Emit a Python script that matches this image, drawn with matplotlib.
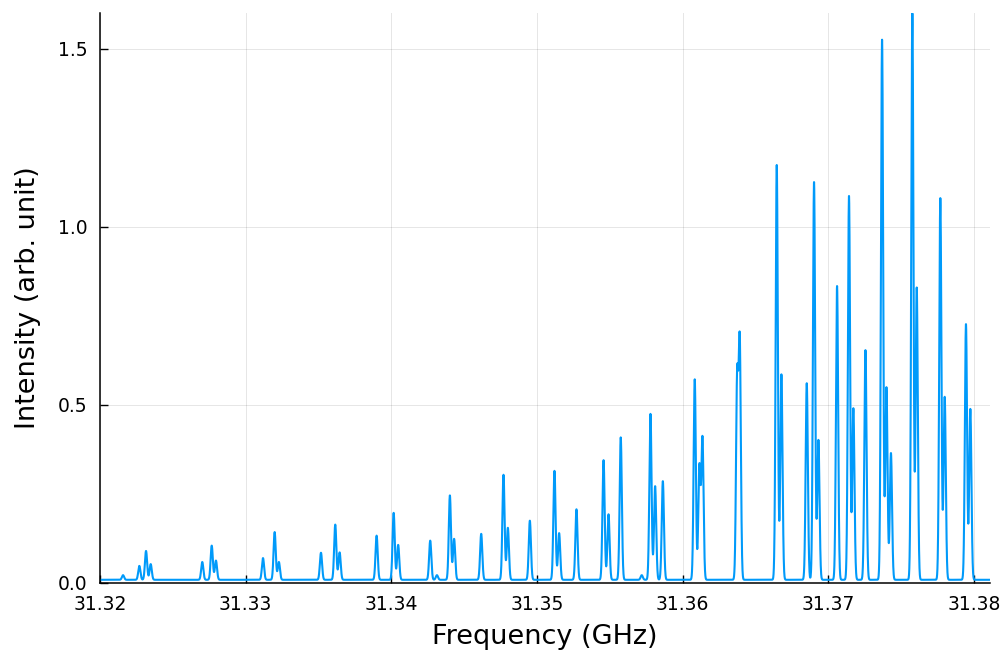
"""Rotational spectrum around 31.32-31.38 GHz, drawn Plots.jl style."""

import numpy as np
import matplotlib
matplotlib.use("Agg")
import matplotlib.pyplot as plt

# line centres (GHz) and peak intensities (arb. unit) of the resolved lines
line_freq = [
    31.32158, 31.32270, 31.32316, 31.32348,
    31.32702, 31.32767, 31.32796,
    31.33119, 31.33199, 31.33228,
    31.33517, 31.33615, 31.33645,
    31.33899, 31.34016, 31.34047,
    31.34267, 31.34313, 31.34402, 31.34431,
    31.34617, 31.34770, 31.34800,
    31.34951, 31.35120, 31.35152,
    31.35271, 31.35457, 31.35491,
    31.35575, 31.35719, 31.35779, 31.35811, 31.35864,
    31.36083, 31.36115, 31.36136,
    31.36374, 31.36392,
    31.36646, 31.36678,
    31.36852, 31.36902, 31.36932,
    31.37060, 31.37142, 31.37172,
    31.37255, 31.37369, 31.37399, 31.37430,
    31.37577, 31.37607,
    31.37769, 31.37799,
    31.37945, 31.37975,
]
line_height = [
    0.022, 0.048, 0.090, 0.053,
    0.059, 0.105, 0.063,
    0.070, 0.143, 0.059,
    0.085, 0.164, 0.086,
    0.133, 0.197, 0.107,
    0.119, 0.022, 0.246, 0.124,
    0.138, 0.304, 0.155,
    0.175, 0.315, 0.140,
    0.207, 0.345, 0.193,
    0.409, 0.022, 0.475, 0.272, 0.286,
    0.572, 0.336, 0.413,
    0.606, 0.701,
    1.174, 0.586,
    0.561, 1.126, 0.402,
    0.834, 1.087, 0.491,
    0.654, 1.526, 0.550, 0.365,
    1.600, 0.830,
    1.081, 0.523,
    0.727, 0.489,
]

baseline = 0.009
line_sigma = 0.000075  # GHz, gaussian width of every line

x_ticks = [31.32, 31.33, 31.34, 31.35, 31.36, 31.37, 31.38]
y_ticks = [0.0, 0.5, 1.0, 1.5]


def spectrum(freq, centres, heights, sigma, offset):
    """Sum of gaussian lines whose total hits each listed peak height."""
    c = np.asarray(centres)
    h = np.asarray(heights) - offset
    gram = np.exp(-0.5 * ((c[:, None] - c[None, :]) / sigma) ** 2)
    amps = np.linalg.solve(gram, h)
    prof = np.exp(-0.5 * ((freq[:, None] - c[None, :]) / sigma) ** 2)
    return offset + prof @ amps


freq = np.arange(31.3200, 31.3811, 0.000005)
intensity = spectrum(freq, line_freq, line_height, line_sigma, baseline)

plt.rcParams["font.family"] = ["DejaVu Sans"]

fig = plt.figure(figsize=(10.05, 6.53), dpi=100)
ax = fig.add_axes([100 / 1005, 70 / 653, 890 / 1005, 570 / 653])

ax.plot(freq, intensity, color="#009AFA", lw=1.5, solid_joinstyle="round")

ax.set_xlim(31.32, 31.3811)
ax.set_ylim(0, 1.601)
ax.set_xticks(x_ticks)
ax.set_xticklabels([f"{t:.2f}" for t in x_ticks])
ax.set_yticks(y_ticks)
ax.set_yticklabels([f"{t:.1f}" for t in y_ticks])

ax.grid(True, color="black", alpha=0.1, lw=0.7)
ax.set_axisbelow(True)
for side in ("top", "right"):
    ax.spines[side].set_visible(False)
for side in ("left", "bottom"):
    ax.spines[side].set_linewidth(1.1)

ax.tick_params(direction="in", length=6, width=1.0, labelsize=13.5, pad=9)
ax.set_xlabel("Frequency (GHz)", fontsize=19.5, labelpad=7)
ax.set_ylabel("Intensity (arb. unit)", fontsize=19.5, labelpad=12)

fig.savefig("out.png", dpi=100)
